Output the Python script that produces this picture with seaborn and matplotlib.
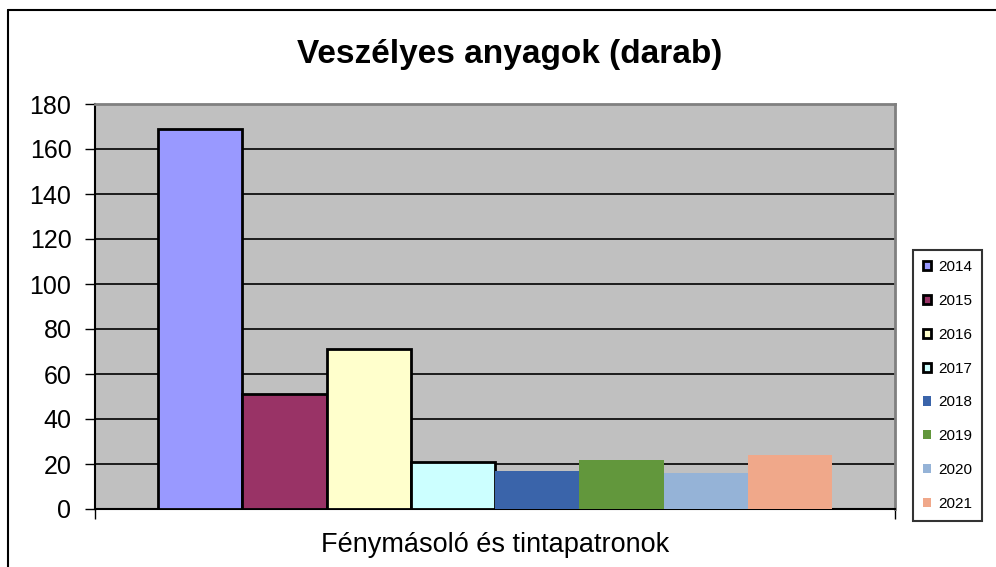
import seaborn as sns
import matplotlib.pyplot as plt
import pandas as pd
from matplotlib.lines import Line2D

category = "Fénymásoló és tintapatronok"
years = ["2014", "2015", "2016", "2017", "2018", "2019", "2020", "2021"]
values = [169, 51, 71, 21, 17, 22, 16, 24]
colors = ["#9999FF", "#993366", "#FFFFCC", "#CCFFFF",
          "#3A64AA", "#62973C", "#95B3D7", "#F0A88A"]

df = pd.DataFrame({"cat": [category] * len(years), "year": years, "value": values})

sns.set_style("white")
plt.rcParams["font.family"] = ["Liberation Sans", "DejaVu Sans"]
plt.rcParams["text.color"] = "black"
plt.rcParams["xtick.color"] = "black"
plt.rcParams["ytick.color"] = "black"
plt.rcParams["axes.labelcolor"] = "black"

fig = plt.figure(figsize=(9.96, 5.67), dpi=100)
ax = fig.add_axes([95 / 996, 58 / 567, 800 / 996, 405 / 567])

sns.barplot(data=df, x="cat", y="value", hue="year", palette=colors,
            width=0.8425, linewidth=0, saturation=1, ax=ax, zorder=3)

# first four series have black outlines
for p in ax.patches[:4]:
    p.set_edgecolor("black")
    p.set_linewidth(2)

ax.set_facecolor("#C0C0C0")
ax.set_ylim(0, 180)
ax.set_xlim(-0.5, 0.5)
ax.set_yticks(range(0, 181, 20))
ax.yaxis.grid(True, color="black", linewidth=1.2, zorder=0)
ax.set_axisbelow(True)
ax.tick_params(axis="y", labelsize=18, length=7, width=1, direction="out", left=True, pad=10)
ax.set_xticks([-0.5, 0.5])
ax.set_xticklabels(["", ""])
ax.tick_params(axis="x", length=7, width=1, direction="out", bottom=True)
ax.set_xlabel(category, fontsize=19.5, labelpad=6)
ax.set_ylabel("")
for s in ["left", "bottom"]:
    ax.spines[s].set_color("black")
    ax.spines[s].set_linewidth(1.5)
for s in ["top", "right"]:
    ax.spines[s].set_color("#808080")
    ax.spines[s].set_linewidth(2)

fig.text(510 / 996, 1 - 55 / 567, "Veszélyes anyagok (darab)", fontsize=24,
         fontweight="bold", ha="center", va="center")

handles, labels = ax.get_legend_handles_labels()
for h in handles[:4]:
    h.set_edgecolor("black")
    h.set_linewidth(2)
leg = ax.legend(handles, labels, loc="upper left", bbox_to_anchor=(913 / 996, 1 - 250 / 567),
                bbox_transform=fig.transFigure, fontsize=11, frameon=True, fancybox=False,
                handlelength=0.55, handleheight=0.55, handletextpad=0.45, labelspacing=1.3,
                borderpad=0.65, borderaxespad=0)
leg.get_frame().set_edgecolor("black")
leg.get_frame().set_linewidth(1.5)

# outer chart border
fig.add_artist(Line2D([8 / 996, 8 / 996], [0, 1 - 10 / 567], color="black", lw=1.5,
                      transform=fig.transFigure))
fig.add_artist(Line2D([8 / 996, 1], [1 - 10 / 567, 1 - 10 / 567], color="black", lw=1.5,
                      transform=fig.transFigure))

fig.savefig("out.png", dpi=100)
